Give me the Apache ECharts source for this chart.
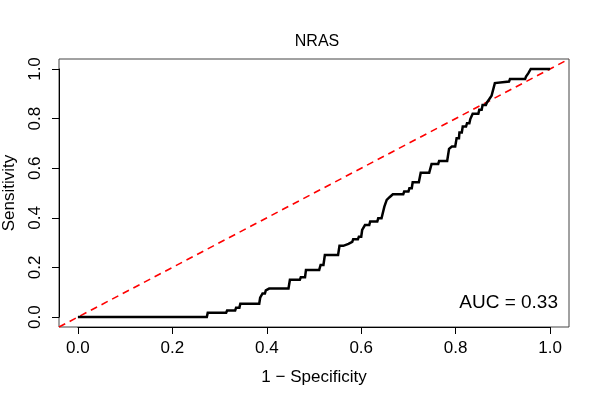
<!DOCTYPE html>
<html>
<head>
<meta charset="utf-8">
<script src="https://cdn.jsdelivr.net/npm/echarts@6/dist/echarts.min.js"></script>
<style>html,body{margin:0;padding:0;background:#fff}#c{width:600px;height:400px}</style>
</head>
<body>
<div id="c"></div>
<script>
var title = 'NRAS';
var xName = '1 \u2212 Specificity';
var yName = 'Sensitivity';
var aucText = 'AUC = 0.33';
var tickValues = [0, 0.2, 0.4, 0.6, 0.8, 1.0];
// ROC vertices: [1 - specificity, sensitivity]
var rocFpr = [0,0.273,0.275,0.314,0.316,0.333,0.335,0.342,0.344,0.384,0.386,0.389,0.391,0.396,0.398,0.405,0.446,0.449,0.47,0.472,0.481,0.483,0.511,0.514,0.52,0.523,0.551,0.554,0.562,0.564,0.573,0.575,0.581,0.583,0.593,0.595,0.6,0.602,0.606,0.608,0.617,0.619,0.634,0.636,0.643,0.649,0.654,0.66,0.667,0.689,0.691,0.7,0.702,0.707,0.709,0.722,0.726,0.744,0.749,0.763,0.765,0.782,0.786,0.79,0.792,0.799,0.802,0.807,0.808,0.813,0.815,0.822,0.824,0.829,0.831,0.834,0.836,0.848,0.85,0.855,0.857,0.864,0.866,0.869,0.871,0.874,0.876,0.88,0.883,0.887,0.913,0.915,0.947,0.949,0.952,0.954,0.957,0.959,1.0];
var rocSens = [0,0,0.017,0.017,0.026,0.026,0.038,0.038,0.054,0.054,0.078,0.078,0.095,0.095,0.108,0.115,0.115,0.15,0.15,0.16,0.16,0.19,0.19,0.21,0.21,0.25,0.25,0.287,0.287,0.295,0.295,0.303,0.303,0.314,0.314,0.324,0.324,0.351,0.351,0.371,0.371,0.385,0.385,0.398,0.398,0.445,0.472,0.483,0.495,0.495,0.506,0.506,0.519,0.519,0.543,0.543,0.582,0.582,0.617,0.617,0.629,0.629,0.678,0.678,0.687,0.687,0.721,0.721,0.744,0.744,0.768,0.768,0.781,0.781,0.798,0.798,0.819,0.819,0.835,0.835,0.855,0.855,0.864,0.864,0.878,0.878,0.892,0.892,0.943,0.949,0.949,0.959,0.959,0.969,0.969,0.983,0.983,1.0,1.0];
var diagX = [-0.04, 1.04];
var diagY = [-0.04, 1.04];

var rocData = rocFpr.map(function (v, i) { return [v, rocSens[i]]; });
var diagData = diagX.map(function (v, i) { return [v, diagY[i]]; });

var chart = echarts.init(document.getElementById('c'), null, {renderer: 'canvas'});
var font = 'Liberation Sans, Arial, Helvetica, sans-serif';
chart.setOption({
  animation: false,
  backgroundColor: '#ffffff',
  title: {
    text: title, left: 312, top: 29, textAlign: 'center',
    textStyle: {fontFamily: font, fontSize: 16, fontWeight: 'normal', color: '#000'}
  },
  grid: [
    {left: 59, right: 31, top: 59, bottom: 73, show: true, borderColor: '#444', borderWidth: 1,
     backgroundColor: 'transparent', outerBoundsMode: 'none', containLabel: false},
    {left: 77.9, right: 49.9, top: 69, bottom: 82.9, show: false, outerBoundsMode: 'none', containLabel: false}
  ],
  xAxis: [
    {type: 'value', gridIndex: 0, min: -0.04, max: 1.04, show: false},
    {type: 'value', gridIndex: 1, min: 0, max: 1, interval: 0.2, offset: 9.9,
     name: xName, nameLocation: 'middle', nameGap: 42,
     nameTextStyle: {fontFamily: font, fontSize: 17, color: '#000'},
     axisLine: {show: true, onZero: false, lineStyle: {color: '#000', width: 1}},
     axisTick: {show: true, length: 7, lineStyle: {color: '#000'}},
     axisLabel: {fontFamily: font, fontSize: 17, color: '#000', margin: 13,
       formatter: function (v) { return v.toFixed(1); }},
     splitLine: {show: false}}
  ],
  yAxis: [
    {type: 'value', gridIndex: 0, min: -0.04, max: 1.04, show: false},
    {type: 'value', gridIndex: 1, min: 0, max: 1, interval: 0.2, offset: 18.9,
     name: yName, nameLocation: 'middle', nameGap: 41, nameRotate: 90,
     nameTextStyle: {fontFamily: font, fontSize: 17, color: '#000'},
     axisLine: {show: true, onZero: false, lineStyle: {color: '#000', width: 1}},
     axisTick: {show: true, length: 7, lineStyle: {color: '#000'}},
     axisLabel: {fontFamily: font, fontSize: 17, color: '#000', margin: 15, rotate: 90,
       formatter: function (v) { return v.toFixed(1); }},
     splitLine: {show: false}}
  ],
  graphic: [
    {type: 'text', right: 42, top: 293,
     style: {text: aucText, fontFamily: font, fontSize: 19, fill: '#000'}}
  ],
  series: [
    {type: 'line', xAxisIndex: 0, yAxisIndex: 0, data: diagData, showSymbol: false,
     lineStyle: {color: '#ff0000', width: 1.6, type: [7, 5]}, silent: true, z: 2},
    {type: 'line', xAxisIndex: 0, yAxisIndex: 0, data: rocData, showSymbol: false,
     lineStyle: {color: '#000', width: 2.5, join: 'miter'}, silent: true, z: 3}
  ]
});
</script>
</body>
</html>
